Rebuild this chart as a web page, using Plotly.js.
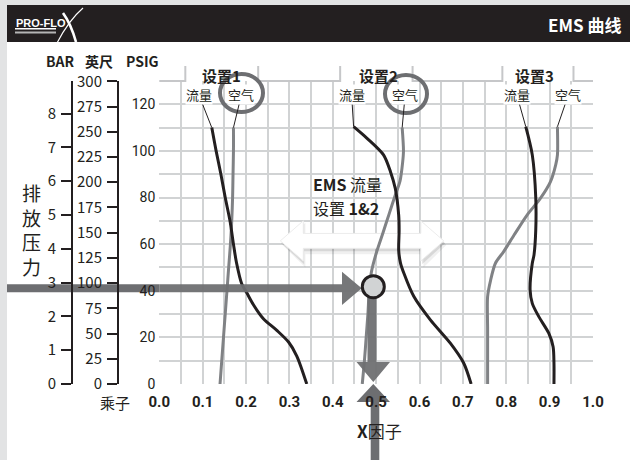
<!DOCTYPE html>
<html><head><meta charset="utf-8">
<script src="https://cdn.plot.ly/plotly-3.0.1.min.js"></script>
<style>html,body{margin:0;padding:0;background:#fff;}#chart{width:630px;height:460px;}</style>
</head><body><div id="chart"></div>
<script>
// ---------- data ----------
const xTickVals = [0, 0.1, 0.2, 0.3, 0.4, 0.5, 0.6, 0.7, 0.8, 0.9, 1.0];
const psigTicks = [0, 20, 40, 60, 80, 100, 120];
const barTicks = [0, 1, 2, 3, 4, 5, 6, 7, 8];
const feetTicks = [0, 25, 50, 75, 100, 125, 150, 175, 200, 225, 250, 275, 300];
const settingNames = ['设置1', '设置2', '设置3'];
const settingCenters = [0.144, 0.506, 0.866];
const flowLabel = '流量';
const airLabel = '空气';

const s1FlowX = [0.121, 0.131, 0.142, 0.152, 0.163, 0.171, 0.178, 0.190, 0.202, 0.217, 0.240, 0.271, 0.298, 0.317, 0.340];
const s1FlowY = [110, 100, 90, 80, 70, 60, 52, 43, 39, 34, 28, 23, 18, 12, 0];
const s1AirX = [0.171, 0.171, 0.170, 0.169, 0.167, 0.164, 0.160, 0.156, 0.152, 0.148, 0.144, 0.140];
const s1AirY = [110, 100, 90, 80, 70, 60, 50, 40, 30, 20, 10, 0];

const s2FlowX = [0.448, 0.479, 0.517, 0.533, 0.544, 0.552, 0.553, 0.552, 0.556, 0.564, 0.587, 0.625, 0.671, 0.702, 0.719];
const s2FlowY = [110.4, 105.4, 98.3, 91.1, 84, 72.5, 66, 57.5, 52, 47.5, 37.5, 27.5, 17.5, 8.9, 0];
const s2AirX = [0.560, 0.563, 0.561, 0.555, 0.544, 0.530, 0.516, 0.500, 0.489, 0.484, 0.481, 0.477, 0.473, 0.468];
const s2AirY = [110, 100, 95, 87, 81, 73, 65, 56, 48, 40, 30, 20, 10, 0];

const s3FlowX = [0.845, 0.860, 0.868, 0.868, 0.864, 0.860, 0.855, 0.860, 0.875, 0.898, 0.908, 0.910, 0.910];
const s3FlowY = [110.4, 98.3, 80, 66, 55.4, 51.8, 40.3, 34.6, 28.9, 21.8, 16, 8.9, 0];
const s3AirX = [0.918, 0.918, 0.914, 0.902, 0.879, 0.848, 0.818, 0.794, 0.775, 0.764, 0.757, 0.757, 0.757];
const s3AirY = [110.4, 98.3, 94, 86.8, 79.7, 72.5, 63.9, 56.8, 51.8, 44.6, 37.5, 23.3, 0];

const PSI_PER_BAR = 14.5;
const FT_PER_PSI = 2.31;

// ---------- styles / geometry ----------
const W = 630, H = 460, L = 40, R = 37, T = 81, B = 76;
const YMAX = 129.99;
const DARK = '#231f20', GRAY = '#808285', ARROW = '#6d6e71', GRID = '#d1d3d4';
const NARROW = '"Noto Sans CJK SC", "Liberation Sans Narrow", sans-serif';
const NUM = 'Roboto, "Liberation Sans", sans-serif';
const CJK = '"Noto Sans CJK SC", sans-serif';
const fx = px => (px - L) / (W - L - R);
const fy = py => (H - B - py) / (H - T - B);
const D0 = fx(159.3);
const dx = x => D0 + (1 - D0) * x;

function curve(x, y, color) {
  return {type: 'scatter', mode: 'lines', x: x, y: y, hoverinfo: 'skip', showlegend: false,
    line: {color: color, width: 3, shape: 'spline', smoothing: 0.8}};
}
const traces = [
  curve(s1AirX, s1AirY, GRAY), curve(s2AirX, s2AirY, GRAY), curve(s3AirX, s3AirY, GRAY),
  curve(s1FlowX, s1FlowY, DARK), curve(s2FlowX, s2FlowY, DARK), curve(s3FlowX, s3FlowY, DARK),
  {type: 'scatter', mode: 'markers', x: [0], y: [0], yaxis: 'y2', marker: {opacity: 0}, hoverinfo: 'skip', showlegend: false},
  {type: 'scatter', mode: 'markers', x: [0], y: [0], yaxis: 'y3', marker: {opacity: 0}, hoverinfo: 'skip', showlegend: false}
];

function txt(px, py, text, size, extra) {
  return Object.assign({xref: 'paper', yref: 'paper', x: fx(px), y: fy(py), text: text, showarrow: false,
    xanchor: 'center', yanchor: 'middle', font: {family: NARROW, size: size, color: DARK}}, extra || {});
}
function leader(x, y, text, ax, ay) {
  return {xref: 'x', yref: 'y', x: x, y: y, text: text, showarrow: true, arrowhead: 0, arrowwidth: 1,
    arrowcolor: DARK, ax: ax, ay: ay, bgcolor: 'white', borderpad: 0,
    font: {family: CJK, size: 13, color: DARK}};
}

const annotations = [
  // header
  txt(623, 24, '<b>EMS 曲线</b>', 17, {xanchor: 'right', font: {family: NARROW, size: 17, color: 'white'}}),
  txt(14, 23, '<b>PRO-FLO</b>', 11, {xanchor: 'left', font: {family: '"Liberation Sans", sans-serif', size: 11, color: 'white'}}),
  // axis headers
  txt(60, 61, '<b>BAR</b>', 14),
  txt(99, 61, '<b>英尺</b>', 14),
  txt(142, 61, '<b>PSIG</b>', 14),
  txt(31, 229, '排<br>放<br>压<br>力', 19, {font: {family: CJK, size: 19, color: DARK}}),
  txt(115, 402, '乘子', 15, {font: {family: CJK, size: 15, color: DARK}}),
  txt(379, 430, '<b>X</b>因子', 17),
  // EMS label (two lines)
  txt(311, 184, '<b>EMS</b> 流量', 16, {xanchor: 'left'}),
  txt(311, 207.5, '设置 <b>1&amp;2</b>', 16, {xanchor: 'left'}),
  // curve labels
  leader(s1FlowX[0], s1FlowY[0], flowLabel, -13, -33),
  leader(s1AirX[0], s1AirY[0], airLabel, 8, -33),
  leader(s2FlowX[0], s2FlowY[0], flowLabel, -2, -32),
  leader(s2AirX[0], s2AirY[0], airLabel, 3, -33),
  leader(s3FlowX[0], s3FlowY[0], flowLabel, -9, -32),
  leader(s3AirX[0], s3AirY[0], airLabel, 11, -32)
];
settingNames.forEach((n, i) => annotations.push({xref: 'x', yref: 'paper', x: settingCenters[i], y: fy(75),
  text: '<b>' + n + '</b>', showarrow: false, xanchor: 'center', yanchor: 'middle',
  font: {family: NARROW, size: 15, color: DARK}}));

// tabs along the top border
const tabs = [[0.060, 0.228], [0.417, 0.584], [0.791, 0.955]];
const yTab = fy(66);
let border = `M${dx(0)},1`;
tabs.forEach(t => { border += ` L${dx(t[0])},1 L${dx(t[0])},${yTab} M${dx(t[1])},${yTab} L${dx(t[1])},1`; });
border += ` L${dx(1)},1`;

function dblArrow(xl, xr, yc, hl, hh, sh) {
  return `M${xl},${yc} L${xl + hl},${yc + hh} L${xl + hl},${yc + sh} L${xr - hl},${yc + sh} L${xr - hl},${yc + hh} L${xr},${yc} L${xr - hl},${yc - hh} L${xr - hl},${yc - sh} L${xl + hl},${yc - sh} L${xl + hl},${yc - hh} Z`;
}
const P = (px, py) => `${fx(px)},${fy(py)}`;

const shapes = [
  // page border and header
  {type: 'rect', xref: 'paper', yref: 'paper', x0: fx(0), x1: fx(7), y0: fy(460), y1: fy(0), fillcolor: '#e2e3e4', line: {width: 0}, layer: 'below'},
  {type: 'rect', xref: 'paper', yref: 'paper', x0: fx(0), x1: fx(630), y0: fy(5), y1: fy(0), fillcolor: '#e2e3e4', line: {width: 0}, layer: 'below'},
  {type: 'rect', xref: 'paper', yref: 'paper', x0: fx(7), x1: fx(630), y0: fy(42), y1: fy(5), fillcolor: DARK, line: {width: 0}, layer: 'below'},
  // logo details
  {type: 'rect', xref: 'paper', yref: 'paper', x0: fx(15), x1: fx(56), y0: fy(29.5), y1: fy(28), fillcolor: 'white', line: {width: 0}, layer: 'above'},
  {type: 'rect', xref: 'paper', yref: 'paper', x0: fx(15), x1: fx(56), y0: fy(33.5), y1: fy(31.5), fillcolor: '#b5b5b5', line: {width: 0}, layer: 'above'},
  {type: 'path', xref: 'paper', yref: 'paper', path: `M${P(83, 8)} Q${P(69, 20)} ${P(57, 43)}`, line: {color: 'white', width: 1.2}, layer: 'above'},
  {type: 'path', xref: 'paper', yref: 'paper', path: `M${P(63, 13)} Q${P(71, 24)} ${P(76, 42)}`, line: {color: 'white', width: 2.6}, layer: 'above'},
  // top border with tabs
  {type: 'path', xref: 'paper', yref: 'paper', path: border, line: {color: '#c6c7c9', width: 2}, layer: 'above'},
  // white double arrow with soft shadow
  {type: 'path', xref: 'x', yref: 'y', path: dblArrow(0.284, 0.662, 59.6, 0.053, 9.6, 3.9), fillcolor: 'rgba(0,0,0,0.06)', line: {width: 0}, layer: 'between'},
  {type: 'path', xref: 'x', yref: 'y', path: dblArrow(0.281, 0.659, 60.4, 0.053, 9.0, 3.5), fillcolor: 'rgba(0,0,0,0.10)', line: {width: 0}, layer: 'between'},
  {type: 'path', xref: 'x', yref: 'y', path: dblArrow(0.279, 0.656, 61.4, 0.053, 8.6, 3.2), fillcolor: 'white', line: {color: '#ececec', width: 1}, layer: 'between'},
  // operating point arrows
  {type: 'rect', xref: 'paper', yref: 'paper', x0: fx(7), x1: fx(159.3), y0: fy(292.3), y1: fy(284.3), fillcolor: ARROW, line: {width: 0}, layer: 'below'},
  {type: 'path', xref: 'paper', yref: 'paper', path: `M${P(159.3, 284.3)} L${P(342, 284.3)} L${P(342, 271.7)} L${P(361.7, 288.3)} L${P(342, 305)} L${P(342, 292.3)} L${P(159.3, 292.3)} Z`, fillcolor: ARROW, opacity: 0.94, line: {width: 0}, layer: 'above'},
  {type: 'path', xref: 'paper', yref: 'paper', path: `M${P(367.5, 296)} L${P(376.5, 296)} L${P(376.5, 362)} L${P(390, 362)} L${P(373.3, 382)} L${P(356.5, 362)} L${P(367.5, 362)} Z`, fillcolor: ARROW, opacity: 0.94, line: {width: 0}, layer: 'above'},
  {type: 'path', xref: 'paper', yref: 'paper', path: `M${P(373.3, 384)} L${P(390, 402)} L${P(379.3, 402)} L${P(379.3, 460)} L${P(370.7, 460)} L${P(370.7, 402)} L${P(356.5, 402)} Z`, fillcolor: ARROW, line: {width: 0}, layer: 'below'},
  {type: 'circle', xref: 'paper', yref: 'paper', x0: fx(362.3), x1: fx(384.3), y0: fy(297.7), y1: fy(275.7), fillcolor: '#d1d3d4', line: {color: DARK, width: 3}, layer: 'above'},
  // highlight rings around 空气 labels
  {type: 'circle', xref: 'paper', yref: 'paper', x0: fx(220), x1: fx(263), y0: fy(112), y1: fy(74), line: {color: ARROW, width: 4}, layer: 'above'},
  {type: 'circle', xref: 'paper', yref: 'paper', x0: fx(385), x1: fx(427), y0: fy(113), y1: fy(75), line: {color: ARROW, width: 4}, layer: 'above'}
];

const sideAxis = (pos, range, vals) => ({
  overlaying: 'y', anchor: 'free', position: pos, side: 'left', range: range, tickvals: vals,
  showgrid: false, zeroline: false, showline: true, linecolor: DARK, linewidth: 2,
  ticks: 'outside', ticklen: 10, tickwidth: 2, tickcolor: DARK, ticklabelstandoff: 2,
  tickfont: {family: NARROW, size: 15, color: DARK}, fixedrange: true
});

const layout = {
  width: W, height: H, margin: {l: L, r: R, t: T, b: B, pad: 0},
  paper_bgcolor: 'white', plot_bgcolor: 'white', showlegend: false,
  xaxis: {domain: [D0, 1], range: [0, 1], tickvals: xTickVals,
    ticktext: xTickVals.map(v => '<b>' + v.toFixed(1) + '</b>'),
    showgrid: true, gridcolor: GRID, gridwidth: 2,
    minor: {dtick: 0.05, tick0: 0, showgrid: true, gridcolor: GRID, gridwidth: 2},
    zeroline: false, showline: false, ticks: '', ticklabelstandoff: 7,
    tickfont: {family: NUM, size: 15, color: DARK}, fixedrange: true},
  yaxis: {domain: [0, 1], range: [0, YMAX], tickvals: psigTicks,
    showgrid: true, gridcolor: GRID, gridwidth: 2,
    minor: {dtick: 10, tick0: 0, showgrid: true, gridcolor: GRID, gridwidth: 2},
    zeroline: false, showline: false, ticks: '', ticklabelstandoff: 3,
    tickfont: {family: NUM, size: 14, color: DARK}, fixedrange: true},
  yaxis2: sideAxis(fx(72), [0, YMAX / PSI_PER_BAR], barTicks),
  yaxis3: sideAxis(fx(118), [0, YMAX * FT_PER_PSI], feetTicks),
  shapes: shapes, annotations: annotations
};

Plotly.newPlot('chart', traces, layout, {staticPlot: true, displayModeBar: false});
</script></body></html>
